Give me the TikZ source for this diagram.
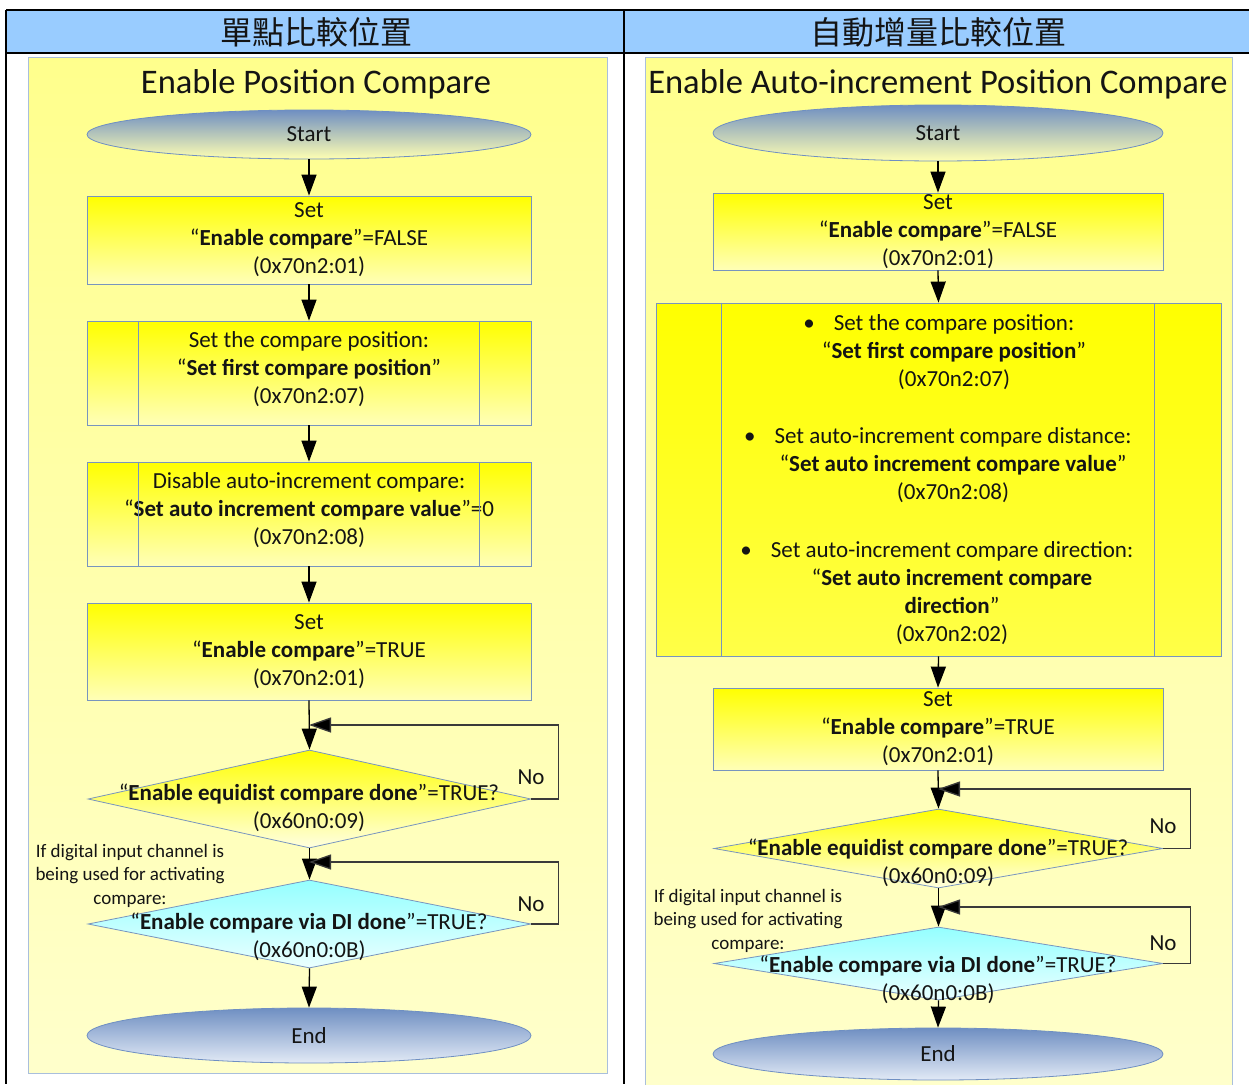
\documentclass[tikz,border=0pt]{standalone}
\usepackage{fontspec}
\setmainfont{Carlito}
\newfontfamily\cjk{Noto Sans CJK TC}
\usetikzlibrary{arrows.meta,shapes.geometric}
\definecolor{ink}{HTML}{141414}
\definecolor{edge}{HTML}{7895BE}
\definecolor{paneledge}{HTML}{A9BFDC}
\definecolor{headfill}{HTML}{99CCFF}
\definecolor{steel}{HTML}{6F8FC2}
\definecolor{paleblue}{HTML}{E2EAF6}
\definecolor{loopline}{HTML}{3A3A3A}
\begin{document}
\begin{tikzpicture}[x=1pt,y=-1pt,
  txt/.style={font=\fontsize{23}{28}\selectfont, text=ink, align=center},
  small/.style={font=\fontsize{19}{23.5}\selectfont, text=ink, align=center},
  title/.style={font=\fontsize{34.5}{38}\selectfont, text=ink},
  head/.style={font=\cjk\fontsize{32}{36}\selectfont, text=ink},
  panel/.style={draw=paneledge, line width=0.8pt, top color=#1, bottom color=#1!45!white},
  term/.style={ellipse, draw=steel, line width=0.8pt, inner sep=0pt, txt},
  startterm/.style={term, top color=steel, bottom color=yellow!30!white},
  endterm/.style={term, top color=steel, bottom color=paleblue},
  procbox/.style={rectangle, draw=edge, line width=0.8pt, inner sep=0pt, txt,
    top color=yellow, bottom color=yellow!28!white},
  decide/.style={diamond, draw=edge, line width=0.8pt, inner sep=0pt, aspect=4},
  ydecide/.style={decide, top color=yellow, bottom color=yellow!12!white},
  cdecide/.style={decide, top color=cyan!42!white, bottom color=cyan!8!white},
  arr/.style={line width=1.3pt, draw=black, -{Triangle[width=15pt,length=21pt]}},
  looparr/.style={line width=1.3pt, draw=loopline, -{Triangle[width=15pt,length=22pt,fill=black]}},
  sideline/.style={draw=edge, line width=0.8pt},
  rule/.style={draw=black, line width=1.6pt}
]
\useasboundingbox (0,0) rectangle (1249,1084);

% header row and table rules
\fill[headfill] (6,10) rectangle (1249,53);
\draw[rule] (6,10) -- (1249,10);
\draw[rule] (6,53) -- (1249,53);
\draw[rule] (6,10) -- (6,1084);
\draw[rule] (624,10) -- (624,1084);
\node[head] (h1) at (316,32) {單點比較位置};
\node[head] (h2) at (938,32) {自動增量比較位置};

% flowchart panels
\path[panel={yellow!45!white}] (28,57) rectangle (607,1073);
\path[panel={yellow!45!white}] (645,57) rectangle (1232,1090);

% ---------------- single-point compare ----------------
\node[title] (t1) at (316,84) {Enable Position Compare};
\node[startterm, minimum width=444pt, minimum height=49pt] (s1) at (309,134.5) {Start};
\node[procbox, minimum width=444pt, minimum height=88pt] (a1) at (309,240)
  {Set\\“\textbf{Enable compare}”=FALSE\\(0x70n2:01)};
\node[procbox, minimum width=444pt, minimum height=104pt] (a2) at (309,373) {};
\node[txt] (a2t) at (309,369.5)
  {Set the compare position:\\“\textbf{Set first compare position}”\\(0x70n2:07)};
\node[procbox, minimum width=444pt, minimum height=104pt] (a3) at (309,514) {};
\node[txt] (a3t) at (309,510.5)
  {Disable auto-increment compare:\\“\textbf{Set auto increment compare value}”=0\\(0x70n2:08)};
\node[procbox, minimum width=444pt, minimum height=97pt] (a4) at (309,651.5)
  {Set\\“\textbf{Enable compare}”=TRUE\\(0x70n2:01)};
\foreach \b in {a2,a3}{
  \draw[sideline] ([xshift=52pt]\b.north west) -- ([xshift=52pt]\b.south west);
  \draw[sideline] ([xshift=-52pt]\b.north east) -- ([xshift=-52pt]\b.south east);
}
\node[ydecide, minimum width=443pt, minimum height=98pt] (a5) at (309.5,799) {};
\node[txt] (a5t) at (309,808) {“\textbf{Enable equidist compare done}”=TRUE?\\(0x60n0:09)};
\node[cdecide, minimum width=443pt, minimum height=88pt] (a6) at (309.5,924) {};
\node[txt] (a6t) at (309,937) {“\textbf{Enable compare via DI done}”=TRUE?\\(0x60n0:0B)};
\node[endterm, minimum width=444pt, minimum height=55pt] (e1) at (309,1035.5) {End};
\node[small] (n1) at (130,875.5) {If digital input channel is\\being used for activating\\compare:};
\node[txt] (no1) at (531,777) {No};
\node[txt] (no2) at (531,904) {No};
\coordinate (j1) at (309,725);
\coordinate (j2) at (309,862);

\draw[arr] (s1.south) -- (a1.north);
\draw[arr] (a1.south) -- (a2.north);
\draw[arr] (a2.south) -- (a3.north);
\draw[arr] (a3.south) -- (a4.north);
\draw[arr] (a4.south) -- (a5.north);
\draw[arr] (a5.south) -- (a6.north);
\draw[arr] (a6.south) -- (e1.north);
\draw[looparr] (a5.east) -- ++(27,0) |- (j1);
\draw[looparr] (a6.east) -- ++(27,0) |- (j2);

% ---------------- auto-increment compare ----------------
\node[title] (t2) at (938,84) {Enable Auto-increment Position Compare};
\node[startterm, minimum width=450pt, minimum height=56pt] (s2) at (938,133) {Start};
\node[procbox, minimum width=450pt, minimum height=77pt] (b1) at (938,231.5)
  {Set\\“\textbf{Enable compare}”=FALSE\\(0x70n2:01)};
\node[procbox, minimum width=565pt, minimum height=353pt,
  bottom color=yellow!72!white] (b2) at (938.5,479.5) {};
\draw[sideline] ([xshift=66pt]b2.north west) -- ([xshift=66pt]b2.south west);
\draw[sideline] ([xshift=-67pt]b2.north east) -- ([xshift=-67pt]b2.south east);
\node[txt] (b2i) at (954,352)
  {\llap{\textbullet\hspace{19pt}}Set the compare position:\\“\textbf{Set first compare position}”\\(0x70n2:07)};
\node[txt] (b2ii) at (953,465)
  {\llap{\textbullet\hspace{19pt}}Set auto-increment compare distance:\\“\textbf{Set auto increment compare value}”\\(0x70n2:08)};
\node[txt] (b2iii) at (952,593)
  {\llap{\textbullet\hspace{19pt}}Set auto-increment compare direction:\\“\textbf{Set auto increment compare}\\\textbf{direction}”\\(0x70n2:02)};
\node[procbox, minimum width=450pt, minimum height=82pt] (b3) at (938,729)
  {Set\\“\textbf{Enable compare}”=TRUE\\(0x70n2:01)};
\node[ydecide, minimum width=449pt, minimum height=79pt] (b4) at (938.5,848.5) {};
\node[txt] (b4t) at (938,863) {“\textbf{Enable equidist compare done}”=TRUE?\\(0x60n0:09)};
\node[cdecide, minimum width=449pt, minimum height=73pt] (b5) at (938.5,963.5) {};
\node[txt] (b5t) at (938,980) {“\textbf{Enable compare via DI done}”=TRUE?\\(0x60n0:0B)};
\node[endterm, minimum width=450pt, minimum height=52pt] (e2) at (938,1054) {End};
\node[small] (n2) at (748,920.5) {If digital input channel is\\being used for activating\\compare:};
\node[txt] (no3) at (1163,826) {No};
\node[txt] (no4) at (1163,943) {No};
\coordinate (k1) at (938,789);
\coordinate (k2) at (938,907);

\draw[arr] (s2.south) -- (b1.north);
\draw[arr] (b1.south) -- (b2.north);
\draw[arr] (b2.south) -- (b3.north);
\draw[arr] (b3.south) -- (b4.north);
\draw[arr] (b4.south) -- (b5.north);
\draw[arr] (b5.south) -- (e2.north);
\draw[looparr] (b4.east) -- ++(27,0) |- (k1);
\draw[looparr] (b5.east) -- ++(27,0) |- (k2);
\end{tikzpicture}
\end{document}
